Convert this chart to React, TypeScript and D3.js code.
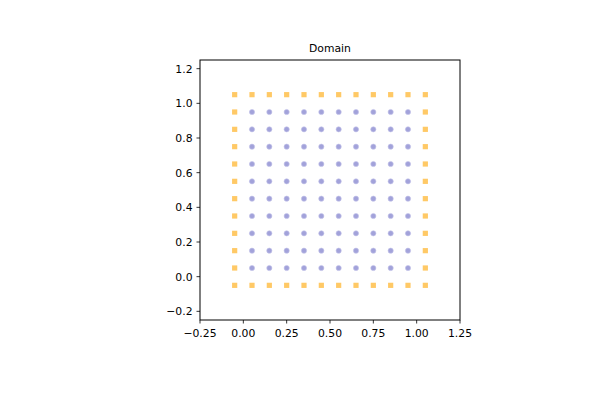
import * as d3 from 'd3';

// interior collocation points and boundary points
const interiorVals = [0.05, 0.15, 0.25, 0.35, 0.45, 0.55, 0.65, 0.75, 0.85, 0.95];
const boundaryVals = [-0.05, 0.05, 0.15, 0.25, 0.35, 0.45, 0.55, 0.65, 0.75, 0.85, 0.95, 1.05];
const boundaryEdges = [-0.05, 1.05];
const xTicks = [-0.25, 0, 0.25, 0.5, 0.75, 1.0, 1.25];
const yTicks = [-0.2, 0, 0.2, 0.4, 0.6, 0.8, 1.0, 1.2];

export default function App() {
  const W = 600;
  const H = 400;
  const left = 200;
  const right = 460;
  const top = 60;
  const bottom = 320;

  const x = d3.scaleLinear().domain([-0.25, 1.25]).range([left, right]);
  const y = d3.scaleLinear().domain([-0.25, 1.25]).range([bottom, top]);

  const interior: [number, number][] = [];
  interiorVals.forEach((a) => interiorVals.forEach((b) => interior.push([a, b])));

  const boundary: [number, number][] = [];
  boundaryVals.forEach((v) => {
    boundaryEdges.forEach((e) => {
      boundary.push([e, v]);
      if (v !== -0.05 && v !== 1.05) boundary.push([v, e]);
    });
  });

  const font = 'DejaVu Sans, sans-serif';
  const fs = 10.8;
  const fmtX = (d: number) => d.toFixed(2).replace('-', '\u2212');
  const fmtY = (d: number) => d.toFixed(1).replace('-', '\u2212');

  return (
    <svg
      width={W}
      height={H}
      style={{ position: 'absolute', left: 0, top: 0, background: '#fff' }}
    >
      <text x={(left + right) / 2} y={52} textAnchor="middle" fontSize={fs} fontFamily={font}>
        Domain
      </text>

      {interior.map(([a, b], i) => (
        <circle
          key={'i' + i}
          cx={x(a)}
          cy={y(b)}
          r={2.6}
          fill="#a2a2da"
          stroke="#c4c4ea"
          strokeWidth={0.6}
        />
      ))}
      {boundary.map(([a, b], i) => (
        <rect
          key={'b' + i}
          x={x(a) - 2.6}
          y={y(b) - 2.6}
          width={5.2}
          height={5.2}
          fill="#ffc966"
        />
      ))}

      <rect x={left} y={top} width={right - left} height={bottom - top} fill="none" stroke="#000" strokeWidth={1} />

      {xTicks.map((t) => (
        <g key={'x' + t} transform={`translate(${x(t)},${bottom})`}>
          <line y2={3.5} stroke="#000" strokeWidth={0.8} />
          <text y={16.5} textAnchor="middle" fontSize={fs} fontFamily={font}>
            {fmtX(t)}
          </text>
        </g>
      ))}
      {yTicks.map((t) => (
        <g key={'y' + t} transform={`translate(${left},${y(t)})`}>
          <line x2={-3.5} stroke="#000" strokeWidth={0.8} />
          <text x={-7.5} dy="0.36em" textAnchor="end" fontSize={fs} fontFamily={font}>
            {fmtY(t)}
          </text>
        </g>
      ))}
    </svg>
  );
}
